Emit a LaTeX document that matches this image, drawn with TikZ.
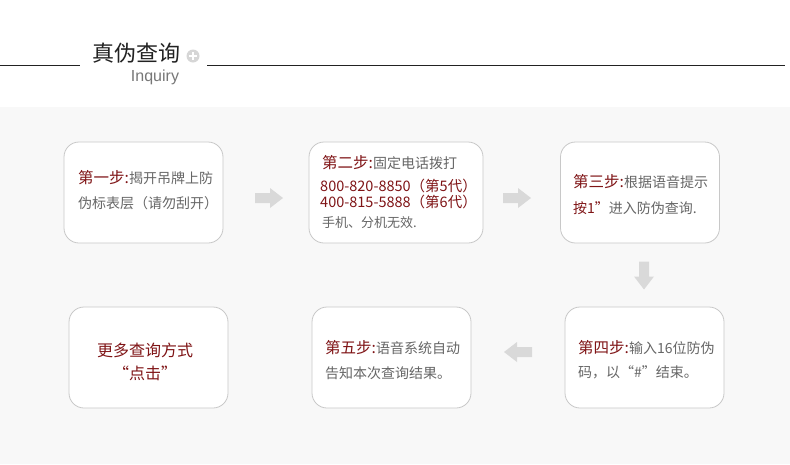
\documentclass[tikz,border=0pt]{standalone}
\usepackage{fontspec}
\setmainfont{Noto Sans CJK SC}
\newfontfamily\latinfont{Liberation Sans}
\definecolor{stepred}{HTML}{7F1416}
\definecolor{txtgray}{HTML}{666666}
\definecolor{boxline}{HTML}{C8C8C8}
\definecolor{bggray}{HTML}{F8F8F8}
\definecolor{arrowgray}{HTML}{D9D9D9}
\definecolor{titlecol}{HTML}{222222}
\definecolor{inqcol}{HTML}{777777}
\definecolor{pluscol}{HTML}{D6D6D6}
\newcommand\stephead[1]{{\color{stepred}\fontsize{15.5}{15.5}\selectfont #1}}
\begin{document}
\begin{tikzpicture}[x=1pt,y=-1pt,
  stepbox/.style={draw=boxline, fill=white, rounded corners=15pt, line width=0.8pt,
    inner sep=0pt, minimum width=159pt, minimum height=101pt},
  txt/.style={inner sep=0pt, anchor=west, text=txtgray, font=\fontsize{14}{14}\selectfont},
  redtxt/.style={inner sep=0pt, text=stepred, font=\fontsize{14}{14}\selectfont},
  blockarrow/.style={fill=arrowgray, draw=none},
  pics/flowarrow/.style={code={
    \fill[blockarrow] (-14,-5) -- (1,-5) -- (1,-10) -- (14,0) -- (1,10) -- (1,5) -- (-14,5) -- cycle;}}]
\path[use as bounding box] (0,0) rectangle (790,464);
\fill[white] (0,0) rectangle (790,464);
\fill[bggray] (0,107) rectangle (790,464);

% title
\node[inner sep=0pt, text=titlecol, font=\fontsize{22}{22}\selectfont] (title) at (136,53) {真伪查询};
\node[circle, fill=pluscol, minimum size=13pt, inner sep=0pt] (plus) at (193,56) {};
\draw[white, line width=1.7pt] (plus.center) +(-3.8,0) -- +(3.8,0) (plus.center) +(0,-3.8) -- +(0,3.8);
\node[inner sep=0pt, text=inqcol, font=\latinfont\fontsize{16}{16}\selectfont] (inq) at (155,77) {Inquiry};
\coordinate (l1a) at (0,65); \coordinate (l1b) at (80,65);
\coordinate (l2a) at (207,65); \coordinate (l2b) at (785,65);
\draw[titlecol, line width=1pt] (l1a) -- (l1b) (l2a) -- (l2b);

% boxes
\node[stepbox] (b1) at (143.5,192.5) {};
\node[stepbox, minimum width=174pt] (b2) at (396,192.5) {};
\node[stepbox] (b3) at (640,192.5) {};
\node[stepbox] (b4) at (644.5,357.5) {};
\node[stepbox] (b5) at (391.5,357.5) {};
\node[stepbox] (b6) at (148.5,357.5) {};

% texts
\node[txt] (t1a) at (78,178) {\stephead{第一步:}揭开吊牌上防};
\node[txt] (t1b) at (78,203) {伪标表层（请勿刮开）};

\node[txt] (t2a) at (322,163) {\stephead{第二步:}固定电话拨打};
\node[redtxt, anchor=west, font=\fontsize{14.5}{14.5}\selectfont] (t2b) at (320,186) {800-820-8850（第5代）};
\node[redtxt, anchor=west, font=\fontsize{14.5}{14.5}\selectfont] (t2c) at (320,202) {400-815-5888（第6代）};
\node[txt, font=\fontsize{13}{13}\selectfont] (t2d) at (322,223) {手机、分机无效.};

\node[txt] (t3a) at (573,182) {\stephead{第三步:}根据语音提示};
\node[txt] (t3b) at (573,208) {{\color{stepred}按1”}进入防伪查询.};

\node[txt] (t4a) at (578,348) {\stephead{第四步:}输入16位防伪};
\node[txt] (t4b) at (578,372) {码，以“\#”结束。};

\node[txt] (t5a) at (325,348) {\stephead{第五步:}语音系统自动};
\node[txt] (t5b) at (325,373) {告知本次查询结果。};

\node[redtxt, font=\fontsize{16}{16}\selectfont] (t6a) at (145,350) {更多查询方式};
\node[redtxt, font=\fontsize{16}{16}\selectfont] (t6b) at (145,373) {“点击”};

% arrows
\coordinate (a1) at (269,198);
\coordinate (a2) at (517,198);
\coordinate (a3) at (644,275.5);
\coordinate (a4) at (518,352);
\pic at (a1) {flowarrow};
\pic at (a2) {flowarrow};
\pic[rotate=-90] at (a3) {flowarrow};
\pic[rotate=180] at (a4) {flowarrow};
\end{tikzpicture}
\end{document}
